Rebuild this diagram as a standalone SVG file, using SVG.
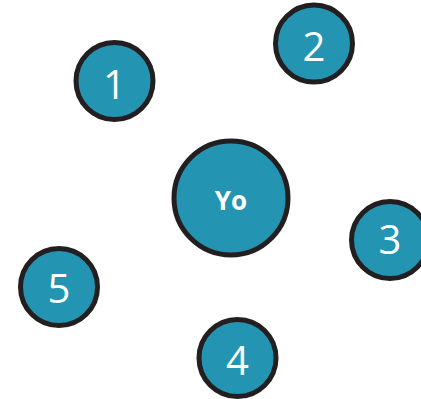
<svg xmlns="http://www.w3.org/2000/svg" width="421" height="399" viewBox="0 0 421 399">
<style>
.n circle{fill:#2394b1;stroke:#231f20;stroke-width:5}
.n text{fill:#fff;font-family:"Open Sans","Liberation Sans",sans-serif;text-anchor:middle}
.d{font-size:40px}
.c{font-size:26px;font-weight:bold}
</style>
<rect width="421" height="399" fill="#fff"/>
<g id="connectors"></g>
<g id="node-yo" class="n"><circle cx="231" cy="198" r="57"/><text class="c" x="231" y="210">Yo</text></g>
<g id="node-1" class="n"><circle cx="114.5" cy="81" r="38.5"/><text class="d" x="114.5" y="99">1</text></g>
<g id="node-2" class="n"><circle cx="314" cy="43.5" r="38.5"/><text class="d" x="314" y="61">2</text></g>
<g id="node-3" class="n"><circle cx="390" cy="240" r="38.5"/><text class="d" x="390" y="254">3</text></g>
<g id="node-5" class="n"><circle cx="59" cy="287" r="38.5"/><text class="d" x="59" y="303">5</text></g>
<g id="node-4" class="n"><circle cx="237.5" cy="358" r="38.5"/><text class="d" x="237.5" y="375">4</text></g>
</svg>
